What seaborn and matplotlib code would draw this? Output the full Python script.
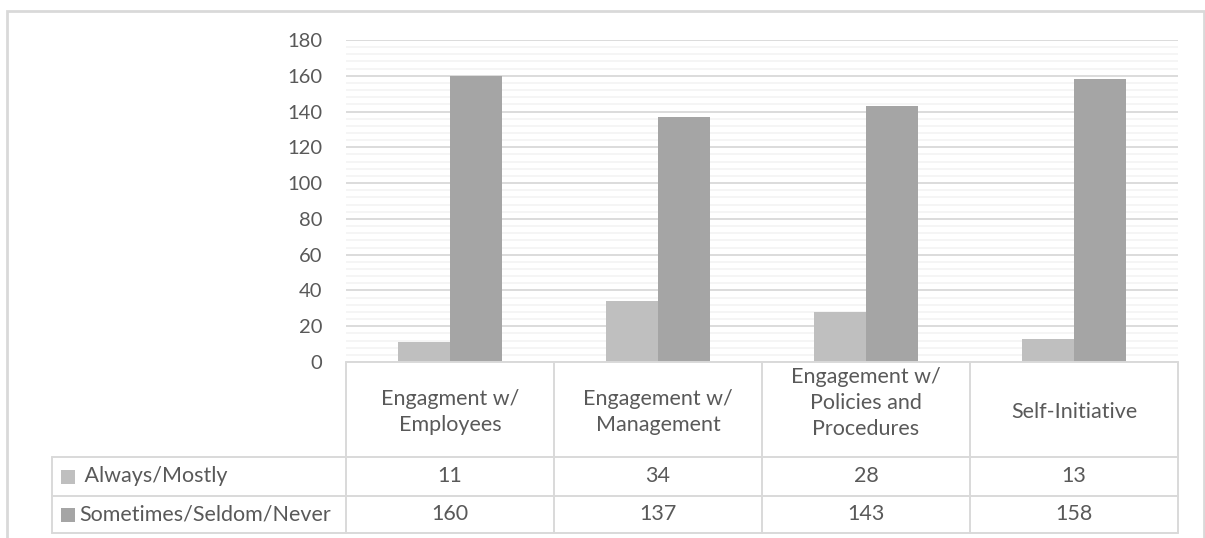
import matplotlib
matplotlib.use("Agg")
import matplotlib.pyplot as plt
from matplotlib.patches import Rectangle
from matplotlib.lines import Line2D
from matplotlib.ticker import MultipleLocator
import seaborn as sns
import pandas as pd

categories = ["Engagment w/\nEmployees", "Engagement w/\nManagement",
              "Engagement w/\nPolicies and\nProcedures", "Self-Initiative"]
series_names = ["Always/Mostly", "Sometimes/Seldom/Never"]
always_mostly = [11, 34, 28, 13]
sometimes_never = [160, 137, 143, 158]
y_ticks = [0, 20, 40, 60, 80, 100, 120, 140, 160, 180]

colors = ["#BFBFBF", "#A5A5A5"]
text_color = "#595959"
grid_major = "#D9D9D9"
grid_minor = "#F2F2F2"

sns.set_theme(style="white")
plt.rcParams["font.family"] = ["Lato", "DejaVu Sans"]

W, H = 1205, 538
fig = plt.figure(figsize=(W / 100, H / 100), dpi=100)

def fx(x):
    return x / W

def fy(y):
    return 1 - y / H

# plot area (pixels)
px0, px1 = 346, 1178
py_top, py_bot = 40, 362
ax = fig.add_axes([fx(px0), fy(py_bot), fx(px1) - fx(px0), fy(py_top) - fy(py_bot)])

df = pd.DataFrame({
    "category": categories * 2,
    "series": [series_names[0]] * 4 + [series_names[1]] * 4,
    "value": always_mostly + sometimes_never,
})
sns.barplot(data=df, x="category", y="value", hue="series", order=categories,
            hue_order=series_names, palette=colors, width=0.5, linewidth=0,
            saturation=1, ax=ax, legend=False, zorder=3)

fs_tick = 14.5
fs = 15.5

ax.set_xlim(-0.5, len(categories) - 0.5)
ax.set_ylim(y_ticks[0], y_ticks[-1])
ax.set_yticks(y_ticks)
ax.set_yticklabels([str(t) for t in y_ticks], fontsize=fs_tick, color=text_color)
ax.yaxis.set_minor_locator(MultipleLocator(4))
ax.grid(which="major", axis="y", color=grid_major, linewidth=1.3, zorder=0)
ax.grid(which="minor", axis="y", color=grid_minor, linewidth=1.1, zorder=0)
ax.tick_params(axis="y", which="both", length=0, pad=17)
ax.set_xticks([])
ax.set_xlabel("")
ax.set_ylabel("")
for s in ax.spines.values():
    s.set_visible(False)
ax.set_axisbelow(True)

# outer chart border
fig.add_artist(Rectangle((fx(7), fy(560)), fx(1204) - fx(7), fy(11) - fy(560),
                         transform=fig.transFigure, fill=False,
                         edgecolor="#D9D9D9", linewidth=2, clip_on=False))

# data table
col_x = [346, 554, 762, 970, 1178]
lab_x0 = 52
row_y = [362, 457, 496, 533]
lc = "#D9D9D9"
lw = 1.4

def hline(x0, x1, y):
    fig.add_artist(Line2D([fx(x0), fx(x1)], [fy(y), fy(y)], transform=fig.transFigure,
                          color=lc, linewidth=lw))

def vline(x, y0, y1):
    fig.add_artist(Line2D([fx(x), fx(x)], [fy(y0), fy(y1)], transform=fig.transFigure,
                          color=lc, linewidth=lw))

hline(col_x[0], col_x[-1], row_y[0])
for y in row_y[1:]:
    hline(lab_x0, col_x[-1], y)
vline(lab_x0, row_y[1], row_y[-1])
for x in col_x:
    vline(x, row_y[0], row_y[-1])

for i, cat in enumerate(categories):
    cx = (col_x[i] + col_x[i + 1]) / 2
    nlines = cat.count("\n") + 1
    cy = 412 - 9 * max(0, nlines - 2)
    fig.text(fx(cx), fy(cy), cat, ha="center", va="center",
             fontsize=fs, color=text_color, linespacing=1.4)
    fig.text(fx(cx), fy((row_y[1] + row_y[2]) / 2), str(always_mostly[i]), ha="center",
             va="center", fontsize=fs, color=text_color)
    fig.text(fx(cx), fy((row_y[2] + row_y[3]) / 2), str(sometimes_never[i]), ha="center",
             va="center", fontsize=fs, color=text_color)

label_texts = [" " + series_names[0], series_names[1]]
sq = 14
for r in range(2):
    cy = (row_y[r + 1] + row_y[r + 2]) / 2
    fig.add_artist(Rectangle((fx(61), fy(cy + sq / 2)), fx(sq), sq / H,
                             transform=fig.transFigure, facecolor=colors[r],
                             edgecolor="none"))
    fig.text(fx(79), fy(cy), label_texts[r], ha="left", va="center", fontsize=fs,
             color=text_color)

fig.savefig("out.png", dpi=100)
